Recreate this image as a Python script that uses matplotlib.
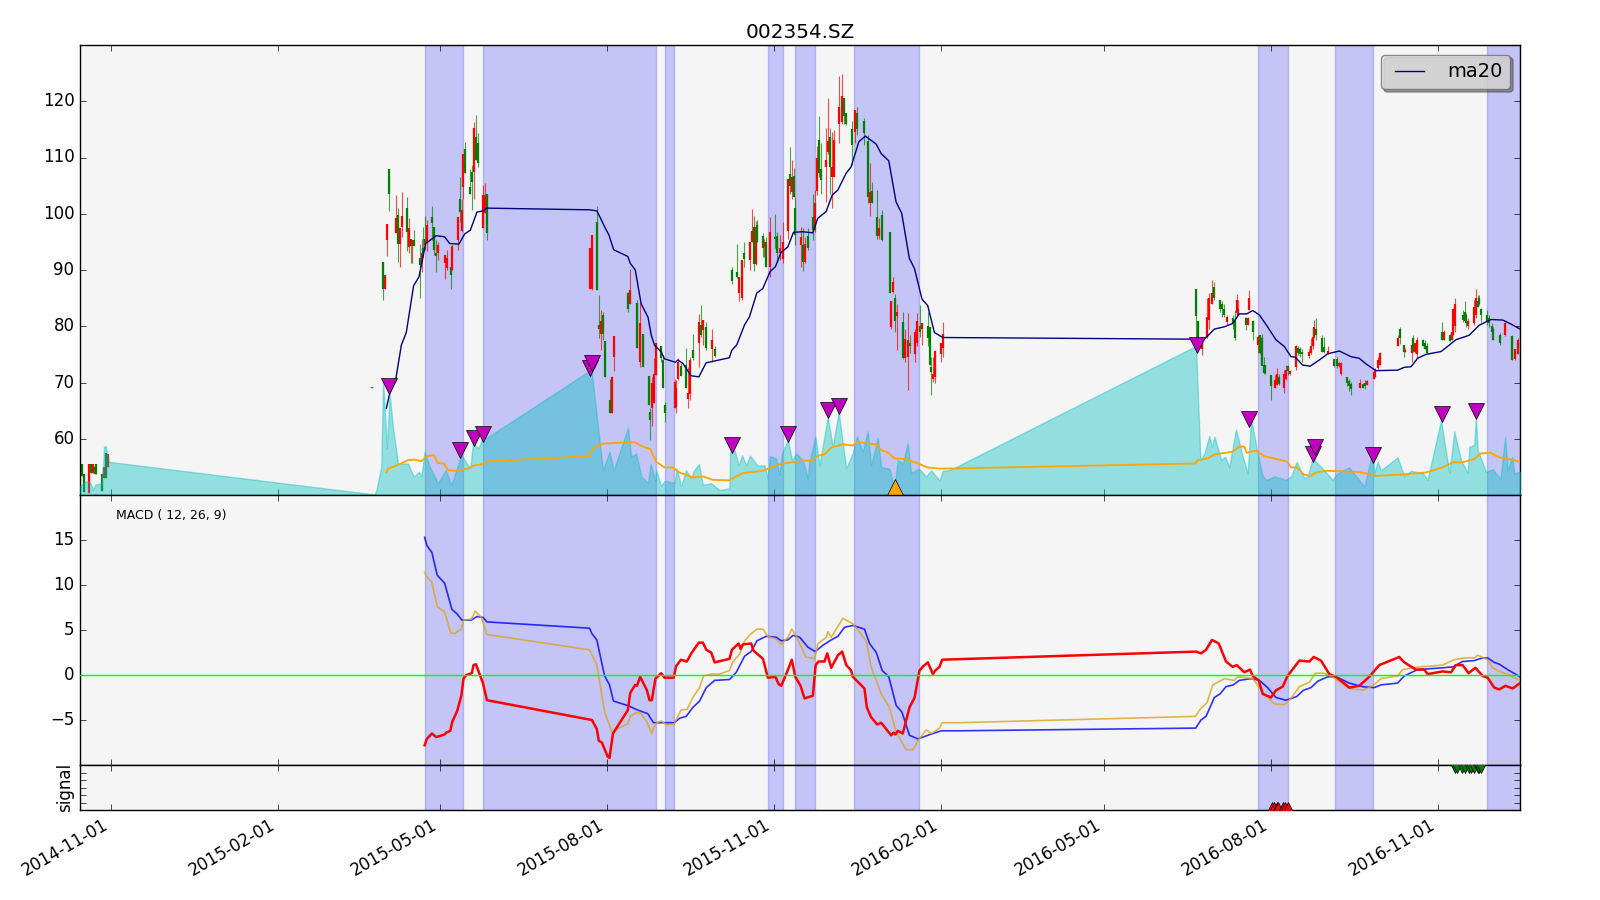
#!/usr/bin/env python3
# Price, MACD and signal panels for 002354.SZ
import pandas as pd
import matplotlib
matplotlib.use("Agg")
import matplotlib.pyplot as plt
import matplotlib.dates as mdates

# Days are counted from this date
BASE = pd.Timestamp("2014-11-01")

# Shaded periods (day numbers)
span_start = [173, 205, 305, 362, 376.5, 409, 631.5, 674, 758]
span_end = [194, 300, 310, 370, 387.5, 445, 648.5, 695, 776]

tick_dates = ["2014-11-01", "2015-02-01", "2015-05-01", "2015-08-01", "2015-11-01",
              "2016-02-01", "2016-05-01", "2016-08-01", "2016-11-01"]

# Candles
candle_day = [-15.9, -14.8, -12, -10.8, -9.8, -8.9, -8, -4.9, -3.8, -2.9, -1.6,
              143, 144, 149,
              150, 150.8, 152, 153.2, 157.2, 158.1, 159.2, 160.1, 163, 164.2, 165.1, 166, 166.9,
              170.2, 171.1, 172, 173.2, 174.1, 177, 178.1, 179.2, 180.1, 184, 185.3, 187.1, 188,
              191, 192, 193.2, 193.9, 195, 198, 198.9, 200, 201.1, 202.2, 204.9, 206, 207.1,
              264, 264.9, 267.9, 269, 270, 271, 272, 274.8, 275.9, 277,
              284.9, 286, 289.9, 291.4, 293, 296.1, 297, 298, 299, 300,
              303, 304, 305, 310.4, 311.3, 312.2, 313.7, 316.8, 317.9, 319,
              320.8, 323.8, 324.9, 326.3, 327.8, 330.9, 332.8, 341.9, 344.9, 346.1,
              347.8, 348.9, 352, 353.1, 354, 355, 356, 359, 359.9, 360.8,
              363, 365.8, 366.9, 368.5, 370, 373, 374, 375.1, 376, 377,
              380.1, 381, 382.1, 384, 386.9, 387.8, 388.9, 390, 391, 393.9,
              395, 395.9, 397, 398, 400.8, 402.9, 404, 404.9, 408.4, 409.8,
              410.8, 414.8, 417, 418, 419, 422, 423, 424.7, 429.1, 430.6,
              429.8, 431.9, 432.8, 436.1, 437.2, 438.8, 439.9, 442.7, 443.8, 445.8,
              446.9, 449.8, 450.9, 451.9, 453, 453.9, 457.2, 458.1,
              597.8, 598.9, 600.9, 603.6, 604.9, 606.6, 607.5, 610.8, 611.9, 613.2,
              614.5, 617.8, 619, 620, 620.9, 625.1, 626, 627, 628.8, 631.7,
              632.8, 633.7, 634.8, 635.8, 638.9, 641.1, 642.2, 643.1, 646.2, 647.3,
              648.4, 649.5, 652.6, 653.7, 654.8, 656, 659.8, 660.9, 661.8, 662.7,
              663.7, 667, 668.1, 670, 673.7, 675, 676.1, 677.4, 680.9, 682,
              682.9, 687.9, 689.7, 690.8, 691.9, 695.4, 696.3, 697.6, 698.7, 709,
              710.1, 711.9, 712.8, 716.3, 717.2, 718.2, 719.1, 722.7, 723.8, 724.8,
              733, 733.9, 737.2, 738.3, 739.3, 740.4, 744.4, 745.5, 746.4, 747.3,
              750.6, 751.6, 752.7, 753.6, 754.5, 757.8, 759.1, 760.5, 761.4, 765,
              767.6, 771.6, 773, 775]
candle_open = [55.5, 53.7, 50.4, 55.6, 53.9, 54.9, 55.6, 53.7, 53, 57.5, 54.9,
               62.9, 69.1, 92.1,
               91.5, 86.7, 95.3, 107.9, 96.5, 99.8, 94.7, 97.6, 101, 94.1, 95.6, 94.3, 95.3,
               92.1, 91.5, 94, 95.5, 95, 99.4, 97.6, 93, 93, 91.2, 90.3, 90.6, 90,
               95.3, 102.6, 96.9, 104.7, 111.6, 104.8, 107.5, 107.5, 113.7, 112.5, 97.4, 100.1, 103.6,
               86.7, 86.7, 98.6, 80.2, 78.7, 82, 77.3, 66.9, 64.6, 74.6,
               86, 83.9, 84.1, 73.7, 78.7, 71.2, 64.8, 65.4, 66.4, 71.3,
               76.5, 74, 66, 65.4, 65.7, 70.6, 72.9, 73.1, 67, 68,
               75.8, 77, 80.2, 79.3, 79.9, 76, 75.9, 90, 89.6, 85.9,
               85, 93.1, 91.8, 95, 97.7, 91.1, 98, 96, 94.1, 95,
               90.6, 95.9, 96, 93, 92, 97, 107, 103.9, 106.7, 101,
               94.4, 94.4, 91.5, 96, 99.5, 97.1, 104, 113.1, 108, 108.3,
               111, 113.7, 106.6, 106.6, 116, 116.3, 120.5, 118, 115, 114.6,
               118, 116.5, 113, 101.9, 104, 99.5, 96, 99.8, 96.8, 86.1,
               79.9, 85, 81.8, 80.7, 74.3, 74.6, 77.1, 75, 77, 80,
               79.5, 80, 79.9, 72.8, 70.7, 71, 75, 76.1,
               86.6, 80.9, 76, 78.1, 81.1, 84, 87, 84.7, 84, 83,
               80.8, 81.5, 81, 82.3, 82, 81.4, 80.2, 82.9, 81, 76.7,
               78.4, 78, 73.1, 73.1, 71.3, 69, 69.6, 71, 69, 70.7,
               73, 71.5, 72.8, 76.1, 76, 75.5, 74.8, 75.2, 76.4, 78.1,
               79.6, 78, 76.3, 75, 74.1, 74.2, 73, 71.5, 71, 70.3,
               69.7, 69, 69.7, 70, 69.6, 70.7, 71, 72.5, 73.1, 76.5,
               79.5, 76.7, 75.5, 75.2, 78, 75.5, 75, 77.5, 77, 76.5,
               79, 77.6, 78.5, 77.6, 78.5, 80, 82, 82.5, 82, 80,
               80.5, 82, 84.5, 85, 83, 82, 81.5, 80, 79.5, 78.5,
               78.5, 78.2, 74.2, 75]
candle_high = [55.5, 53.7, 55.6, 55.6, 55.6, 54.9, 55.6, 53.7, 54.9, 57.5, 57.3,
               63, 69.2, 92.2,
               91.5, 89.1, 98.2, 107.9, 103.3, 101.1, 97.4, 103.9, 102.9, 99.2, 95.6, 95.3, 97.1,
               94.7, 95.6, 97.7, 99.6, 98.9, 101.4, 97.6, 95.3, 95, 92.7, 93.6, 93.9, 94.4,
               99.5, 106.5, 102.6, 110.7, 112.8, 108, 108.7, 116.4, 117.6, 114.3, 105.1, 105.4, 103.6,
               93.9, 96.2, 101.3, 85.6, 82.9, 82.6, 77.3, 70.6, 71.2, 78.3,
               86.1, 90.1, 84.6, 84.1, 78.7, 71.2, 65.4, 70.9, 74.3, 77,
               76.5, 74.6, 66.6, 70.7, 70.4, 74.3, 73.4, 76.1, 72.8, 74.6,
               78.7, 82.2, 83.8, 81.2, 80.8, 79.6, 76.5, 90.5, 94.7, 88.8,
               91.8, 94.9, 95, 100.9, 99.6, 98.8, 98.9, 96.6, 95.6, 95.9,
               99.4, 100, 96.7, 96.2, 98.5, 106.1, 111.8, 109.6, 108.1, 103,
               97.7, 97.4, 95.9, 97.4, 103.5, 104.2, 112, 117.4, 112.5, 115.2,
               120.5, 115.2, 114.6, 114.9, 124.5, 124.8, 120.5, 118, 116.5, 118.4,
               118.9, 117.1, 114, 109, 105.7, 104.2, 99.2, 100.7, 96.8, 88.8,
               84.4, 85.7, 84, 82.6, 79.6, 82.3, 78.4, 79.5, 82.3, 83.8,
               80.5, 82.6, 79.9, 74.6, 74.6, 75.7, 77, 80.8,
               86.6, 80.9, 78.1, 85, 85.9, 88.2, 87.9, 84.7, 84.4, 84,
               82, 82, 82.9, 85.7, 84.7, 81.7, 81.7, 86.4, 81.1, 78.4,
               78.4, 78.6, 74.6, 73.1, 71.3, 71.3, 72.5, 71.6, 72.2, 73.1,
               73.1, 72.2, 76.7, 76.5, 76.3, 76, 76, 77.9, 79.9, 81.2,
               81.4, 78.4, 78.1, 76.5, 74.1, 74.5, 73.7, 73.7, 71, 70.6,
               70.1, 70.7, 69.9, 70.5, 70.5, 72.2, 72.5, 74.6, 75.4, 78.4,
               79.8, 76.7, 76.1, 77.6, 78.4, 77, 78.1, 77.7, 77.6, 77,
               80.8, 79.4, 78.7, 79, 83.2, 85, 82.9, 84.4, 82.3, 81.4,
               84.7, 86.6, 85.6, 85.6, 83.2, 82.9, 82, 80.5, 79.9, 78.8,
               80.7, 78.4, 76, 78]
candle_low = [53.4, 50.6, 50.4, 54, 53.9, 53.7, 53.7, 50.8, 53, 53, 54.9,
              62.9, 69.1, 92.1,
              84.7, 86.7, 92.5, 100.5, 96.5, 91.5, 90.6, 95.9, 93.4, 93, 91.2, 91.2, 94.3,
              85.1, 89.7, 92.4, 93.6, 93.3, 95.3, 92.7, 89.7, 91.7, 88.4, 90, 86.6, 90,
              93.6, 98.6, 96.8, 102.7, 107.2, 103.6, 100.7, 102.7, 109.6, 108.4, 97.4, 100.1, 95.3,
              86.7, 86.4, 86.4, 77.9, 75.7, 77.6, 71, 64.5, 64.6, 72.1,
              82.6, 83.9, 76.1, 72.7, 72.8, 66, 59.8, 62.3, 66.4, 71.3,
              73.7, 69, 62.9, 65.4, 64.5, 70.4, 71.2, 69, 65.5, 66.9,
              74, 72.8, 78.1, 76.7, 75.8, 73.7, 74.6, 87.6, 88.5, 84.5,
              84.7, 90.6, 90, 94.9, 89.9, 90.9, 95, 92.4, 92.4, 90.6,
              88.7, 94, 91.5, 91.8, 91.2, 95.5, 103.6, 102.7, 102.9, 94.4,
              90.6, 89.9, 91.2, 93.6, 95.3, 96.8, 103.3, 106.6, 103.6, 102.1,
              110.7, 103.6, 101.1, 106.6, 112.6, 116, 116, 115.8, 108.6, 112.5,
              114, 112.2, 101.9, 99.6, 101.9, 95.6, 95.6, 95.2, 85.9, 85.9,
              79.6, 79, 75.8, 74.1, 73.7, 68.7, 75.2, 73.7, 76.4, 78.1,
              76.7, 76.4, 73.1, 67.8, 70.1, 69.9, 73.7, 74.6,
              77.7, 77.9, 74.9, 78, 79.6, 84, 84.7, 82.6, 81.7, 81.7,
              80.2, 79.5, 77.6, 82, 82, 79.3, 80.2, 82.9, 77.6, 75.2,
              75.1, 73.1, 71.6, 71.6, 66.9, 69, 69.6, 69.6, 68.1, 70.4,
              71.3, 71.3, 72.2, 74.9, 74.6, 73.7, 74.3, 75.1, 76, 77.9,
              77.6, 75.5, 75.2, 75, 72.8, 72.5, 72.8, 71.3, 69.3, 68.4,
              67.8, 69, 69, 68.8, 69.5, 70.7, 71, 72.2, 73.1, 76.4,
              76.8, 74.6, 75.4, 73.7, 75.4, 75.2, 74.3, 76.5, 76, 75.1,
              77.6, 77.6, 77.3, 77.6, 78.4, 79, 80.8, 80.8, 79.9, 79.6,
              80.2, 81.4, 83.5, 83.8, 80.8, 80.2, 79.9, 78.4, 77.6, 76.7,
              78.3, 74, 74, 75]
candle_close = [53.4, 50.6, 55.6, 54, 55.6, 53.7, 53.7, 50.8, 54.9, 53, 57.3,
                63, 69.2, 92.2,
                86.7, 89.1, 98.2, 103.6, 99.2, 94.7, 97.4, 99.6, 96.8, 97.4, 94.3, 95.3, 94.3,
                90.9, 93, 93, 94.5, 98, 98.4, 93.6, 92.5, 94.5, 92.7, 92.1, 89.1, 94.3,
                99.5, 100.4, 100.7, 110.7, 107.2, 103.5, 105.7, 115.2, 109.6, 109, 103.3, 103.3, 96.5,
                93.9, 96.2, 86.4, 79.5, 81, 78.7, 71, 64.5, 71, 78.3,
                83, 86.4, 76.1, 80.5, 72.8, 66, 63.3, 69.9, 71.6, 77,
                74.3, 69, 64.5, 70.1, 69, 73.7, 71.2, 69, 68.1, 74,
                74.3, 80.8, 78.4, 81.2, 76.1, 77.6, 74.7, 88, 88.7, 88.8,
                91.8, 91.9, 94.9, 97, 91.1, 97.7, 95, 94, 95, 90.6,
                96.8, 95.6, 93, 94, 95, 106.1, 105, 106.6, 102.9, 96.2,
                95.9, 91.5, 94.6, 94, 97.1, 101.9, 110, 107.2, 106, 109.6,
                113, 108.4, 108.4, 113.1, 119, 121, 117.3, 116, 112.2, 118.4,
                115, 114.3, 103, 103.9, 102, 96, 97.4, 95.3, 86, 87.9,
                84.4, 81, 82.6, 74.3, 77.7, 77.6, 76.4, 79, 81, 79,
                80.5, 78, 73.2, 71.9, 71.5, 75.6, 77, 78.7,
                81.8, 78, 78, 81.7, 85.1, 86, 85, 83, 83, 82,
                81.6, 80.5, 78, 84.7, 83, 80.2, 81.4, 85, 79, 78.1,
                75.2, 73, 71.7, 71.7, 69.3, 70.5, 71.5, 69.7, 71.5, 72.2,
                72, 72, 76.4, 75.2, 75, 75, 75.5, 76.5, 78.1, 79.9,
                78.4, 75.5, 75.4, 75.6, 72.9, 73, 73.5, 73.5, 70, 69.3,
                68.8, 69.9, 69, 69.3, 70.2, 71.9, 72, 74, 75.2, 78,
                78, 75.5, 75.8, 76.7, 75.6, 77, 77.5, 76.5, 76, 75.2,
                77.6, 79, 77.3, 79, 83, 84, 81.1, 81, 80.5, 81,
                83.5, 85, 83.5, 84, 82, 81, 80.5, 79, 77.6, 77,
                80.5, 74, 75.9, 77.5]

# 20 day moving average
ma20_day = [151.7, 153.5, 156.8, 160, 162.7, 166.7, 169.7, 173.3, 179.2, 183.8, 186.6, 191.7,
            194.8, 198, 201.6, 204.9, 207.1, 263.6, 267.7, 271.9, 274.3, 276.9, 284.7, 286,
            288.8, 292, 295.8, 297.6, 299.4, 303, 304.9, 310.9, 312.2, 315, 319.5, 323.8, 327.8,
            340.6, 341.9, 344.7, 348.9, 351.7, 355.7, 359, 363, 366, 369, 372.8, 375.9, 381,
            386.5, 389.3, 393.9, 397.2, 400.3, 404.9, 407.6, 411.9, 415.5, 421.4, 424.2, 428.4,
            432.4, 435.5, 439.7, 442.5, 446.7, 449.8, 453.5, 458.1, 597.6, 602.2, 607.7, 613.2,
            617.8, 621.4, 625.5, 628.8, 632.5, 637, 641.6, 646.2, 649.9, 652.3, 656.3, 660.4,
            665.5, 670.1, 676.5, 682.9, 687.5, 691.2, 696.7, 708.6, 712.3, 716, 719.6, 724.2,
            732.5, 736.1, 740.7, 748, 753.6, 760, 766.5, 771, 776]
ma20_val = [65.4, 68, 70.4, 76.7, 78.9, 87.2, 88.8, 94.7, 96.1, 95.9, 94.7, 94.6,
            96.4, 97.1, 100.3, 100.5, 101, 100.7, 100.5, 97.7, 96.2, 93.6, 92.4, 91.2,
            90, 84, 81.6, 78.4, 76.6, 75.5, 74.2, 73.6, 74, 73.4, 71.2, 71, 73.5,
            74.4, 75.7, 76.7, 80.2, 81.7, 85.9, 86.7, 89.7, 90.6, 93.1, 94.1, 96.7, 96.8,
            96.6, 99.2, 100.4, 103.3, 104.2, 107.2, 108.3, 112.8, 113.8, 112.4, 110.7, 109.4,
            102.1, 100.1, 92.1, 90.3, 84.8, 83.7, 78.9, 78, 77.7, 77.7, 79.5, 79.9,
            80.5, 82.2, 82.2, 82.8, 82, 79.9, 77.6, 76.4, 74.6, 74.5, 73.1, 72.9,
            74, 75.1, 75.6, 74.6, 74.3, 73.3, 72.1, 72.2, 72.7, 72.8, 74.3, 75,
            75.5, 76.4, 77.6, 78.4, 80.2, 81.2, 81.1, 80.4, 79.5]

# Volume and its average, on the price scale of the top panel
vol_day = [-16.8, -15.4, -14.4, -11.7, -9.8, -8.4, -5.3, -4.3, -3.8, -2.9, -1, 145.2, 146.2,
           148.9, 149.9, 152, 153.5, 155.3, 158.1, 163.6, 166.7, 169.7, 171, 172.8, 175.6, 180.1,
           184.4, 187.5, 193, 194.8, 197.9, 199.4, 202.5, 204.9, 206.7, 264.6, 271, 274.6, 276.9,
           284.7, 286.6, 289.3, 292.1, 295.8, 297.2, 299.9, 300.3, 303, 304.9, 310.4, 311.6, 314,
           316.8, 319.5, 321, 323.8, 326, 330.5, 335.1, 340.6, 341, 343.4, 345.8, 347.6, 349.8,
           352, 356.2, 359.9, 361.7, 363, 366.3, 368.2, 369.6, 372.8, 375.1, 377.4, 381, 383.8,
           384.7, 388, 390.2, 394.8, 397.5, 400.8, 404.9, 408.5, 410.8, 414, 416.8, 418.6, 422.3,
           424.2, 428.7, 431.5, 433.3, 436.1, 438.8, 440.7, 444.9, 449, 451.7, 456.3, 458.1, 461.8,
           597.6, 600, 602.2, 604.9, 606.4, 607.7, 611.4, 613.6, 615.9, 619.6, 623.3, 626, 627.9,
           631.5, 634.3, 636.5, 640.7, 647.1, 649.9, 653, 657.2, 659.1, 661.8, 667.3, 672.8, 674.7,
           678.3, 682, 690.3, 694.9, 695.8, 697.6, 699.4, 708.6, 712.3, 716, 718.7, 722.4, 725.1,
           732.5, 737.1, 739.8, 743.5, 747.2, 748.1, 750.8, 751.7, 752.7, 757.3, 761, 765.2,
           767.8, 769.2, 771.6, 772.9, 776]
vol_val = [51.6, 52, 52.4, 52.4, 51, 51.9, 52, 55, 58.6, 58.7, 55.9, 50.1, 50.9,
           55, 70.4, 58.3, 68, 62.1, 55.6, 55.6, 53.3, 54.1, 53.3, 57.7, 55, 52.1,
           54.4, 51.8, 57.1, 56.2, 54.7, 59.2, 58.3, 60.4, 60.1, 72.3, 54.4, 57.7, 54.4,
           61.9, 56.8, 57.4, 53.3, 52.1, 55.6, 52.4, 54.4, 51.6, 52.5, 52.2, 54.7, 51.6,
           54.4, 53, 54.3, 55.5, 51.8, 52.1, 50.9, 51.2, 57.7, 58, 55.3, 57.1, 55.3,
           57, 55.2, 55.3, 53, 56.9, 56.5, 53.6, 57.4, 59.8, 56.2, 57.4, 56.2, 53,
           55.9, 60.4, 55.3, 63.9, 58.6, 64.8, 54.7, 57.4, 60.4, 57.7, 61.3, 55.3, 60.1,
           55, 54.7, 51.2, 56.2, 55.6, 59.2, 53.9, 54.7, 53.3, 54.4, 52.6, 54.3, 54.4,
           76.5, 56.2, 57.4, 60.5, 58.6, 60.4, 56.2, 56.8, 55, 61.7, 56.8, 53.9, 63.6,
           57.4, 53.3, 52.7, 53.3, 52.7, 53.3, 55.9, 53, 53.3, 56.5, 54.7, 52.7, 53.6,
           54.4, 54.9, 51.5, 58, 53.9, 55.9, 54.4, 56.7, 53.3, 54.3, 54.1, 53.9, 52.7,
           63.3, 53.9, 61.3, 56.2, 53.9, 58.6, 58.9, 63.9, 58, 54.1, 54.6, 52.8,
           60.3, 54.4, 56.8, 53.9, 54.1]
vol_ma_day = [151.7, 152.6, 157.2, 163.6, 167.3, 171, 174, 177.8, 180, 183.4, 185.6, 189.3,
              196.7, 199.4, 204.9, 207.7, 263.6, 264.9, 270, 274.6, 288.4, 293, 297, 300.3,
              304.9, 309.4, 313.1, 320.5, 326, 331.5, 340.6, 348, 359, 368.2, 377.3, 386.5,
              389.3, 393, 396.6, 403, 408.5, 411.3, 421.4, 424.2, 427.8, 431.5, 437.9, 445.2,
              449.8, 456.3, 461.8, 597.2, 598.5, 604, 607.7, 617.8, 621.4, 624.2, 625.5, 630.6,
              635.2, 640.7, 648, 649.9, 653, 657.2, 660.9, 663.7, 669.2, 687.5, 696.7, 709.5,
              724.2, 733.4, 738.9, 744.4, 750.8, 754.5, 760, 763.7, 771, 776]
vol_ma_val = [54, 54.7, 55.2, 56.2, 56.3, 56, 56.9, 57.1, 55.7, 55.6, 54.4, 54.3,
              54.7, 55.2, 55.5, 56, 56.9, 58.1, 59.1, 59.2, 59.4, 58.6, 58.2, 55.9,
              54.9, 54.9, 54, 53.1, 53.3, 52.7, 52.6, 53.9, 54.3, 55.5, 55.9, 56.2,
              57, 57.2, 58.4, 59, 58.8, 59.4, 59, 58, 57.6, 56.5, 56.4, 55.5,
              54.9, 54.7, 54.7, 55.6, 56.2, 56.5, 57.2, 57.7, 58.6, 58.6, 57.5, 57.9,
              56.9, 56.5, 55.9, 54.9, 54.9, 53.6, 53.4, 54, 54.3, 54.1, 53.4, 53.6,
              54, 54.9, 55.8, 55.8, 56.4, 57.4, 57.5, 56.8, 56.3, 55.9]

# Volume alerts
alert_day = [153.2, 192.4, 199.8, 204.9, 263.6, 264.9, 341.9, 372.8, 394.8, 400.8,
             597.9, 626.6, 661.8, 662.9, 694.9, 733, 751.6]
alert_val = [69.3, 58, 60.2, 60.8, 72.5, 73.4, 58.9, 60.8, 65.1, 65.8,
             76.7, 63.5, 57.3, 58.5, 57.1, 64.4, 64.9]
low_alert_day = [431.7]
low_alert_val = [51.4]

# MACD lines
dif_day = [172.8, 174, 176.8, 179.7, 183.8, 187.8, 190.6, 193.3, 198.5, 201.6, 204.9, 207.1,
           263.6, 264.9, 267.6, 271.9, 274.6, 276.8, 284.7, 290.2, 295.7, 298.8, 310.4, 313.2,
           316.8, 320.5, 324.2, 327.9, 332.5, 340.7, 344.4, 349, 352.6, 355.8, 360.9, 366.4,
           369.2, 372.8, 375.6, 379.3, 383.8, 387.9, 392.1, 396.7, 400.4, 404, 408.6, 415,
           417.8, 421.5, 424.8, 428.4, 432.5, 435.6, 439.8, 444.4, 452.7, 457.3, 467.3, 597.4,
           600.3, 603.1, 607.7, 610.8, 614.1, 618.1, 621.4, 627.9, 632.5, 637, 641.6, 647.1,
           653, 656.7, 660.9, 664.6, 670.1, 674.7, 682, 689.3, 695.8, 699.4, 708.6, 712.3,
           719.6, 733.4, 738.9, 744.4, 750.8, 755.4, 758.2, 761.8, 764.6, 770, 776]
dif_val = [15.3, 14.4, 13.6, 11.1, 10.2, 7.3, 6.8, 6.1, 6.1, 6.5, 6.4, 5.9,
           5.2, 4.6, 3.9, -0.1, -1.1, -2.9, -3.4, -3.9, -4.3, -5.3, -5.3, -4.8,
           -4.6, -3.6, -2.9, -1.4, -0.6, -0.5, 0.3, 2.1, 2.6, 3.8, 4.3, 4.2,
           3.8, 3.9, 4.4, 4.2, 3.1, 2.6, 3.3, 3.9, 4.3, 5.3, 5.5, 5.1,
           3.5, 2.5, 0.5, -0.2, -3.4, -4.1, -6.7, -7.1, -6.5, -6.2, -6.2, -5.9,
           -5, -4.6, -2.5, -2.1, -1.3, -1.1, -0.6, -0.4, -0.6, -1.4, -2.5, -2.8,
           -2.4, -1.7, -1.4, -0.7, -0.2, -0.2, -0.9, -1.3, -1.4, -1.1, -0.9, -0.1,
           0.6, 0.8, 0.9, 1.5, 1.6, 1.9, 1.9, 1.4, 1.2, 0.5, -0.2]
dea_day = [172.8, 174, 176.8, 179.7, 183.8, 187.1, 189.3, 193, 194.2, 198.5, 200.7, 204, 207.1,
           263.6, 267.6, 271.9, 275.9, 284.7, 286, 289.3, 291.5, 295.2, 297.9, 299.9, 303,
           305.8, 310, 314, 317.4, 320.5, 324.2, 326.4, 330.6, 335.2, 340.7, 342.6, 346.2, 349,
           352.6, 355.9, 359.1, 361.8, 366.4, 369.2, 372.8, 375, 378.3, 382.6, 387.5, 389.4,
           394, 394.9, 396.7, 403.1, 408.6, 416, 418.7, 424.2, 428.8, 432.5, 438, 441.7,
           444.4, 449, 451.8, 456.3, 457.8, 467.3, 597.2, 600.3, 603.6, 606.8, 611.4, 613.2,
           618.7, 620.5, 628.8, 632.5, 635.8, 640.7, 646.2, 649.9, 654.5, 660, 663.3, 668.2,
           672.8, 682, 689.3, 694.9, 699.4, 708.6, 711.4, 720.5, 733.4, 739.8, 745.3, 750.8,
           752.7, 758.2, 760.9, 764.6, 770, 776]
dea_val = [11.4, 10.9, 10.3, 7.6, 7, 4.7, 4.6, 5.1, 6.1, 6.2, 7.1, 6.4, 4.5,
           2.8, 1.1, -4.1, -6.3, -5.4, -4.6, -4.2, -4.2, -5.2, -6.5, -5.4, -5.1,
           -5.5, -5.5, -3.9, -3.8, -2.5, -1.4, -0.1, 0.1, 0.1, 0.5, 1.5, 2.3, 3.8,
           4.6, 5.1, 5.1, 4.3, 4, 3.4, 4.2, 5.1, 4, 2, 1.8, 3.5,
           4.2, 4.8, 4.2, 6.3, 5.7, 3.8, 0.9, -2.1, -3.6, -6.4, -8.3, -8.3,
           -7.3, -6.1, -6.5, -5.9, -5.3, -5.3, -4.6, -3.7, -3.1, -1.1, -0.6, -0.4,
           -0.6, -0.2, -0.4, -1.4, -2.2, -3.2, -3.3, -2.6, -1.3, -0.8, 0.2, 0.2,
           -0.2, -1.5, -1.7, -1.2, -0.4, -0.1, 0.6, 0.9, 1.1, 1.7, 1.9, 1.9,
           2.2, 1.7, 0.8, 0.4, 0, -0.6]
hist_day = [172.8, 174, 176.8, 179.2, 183.8, 184.7, 186.9, 188, 190.7, 193, 194.2, 195.7, 198.8,
            199.7, 201, 204.9, 207.1, 264.9, 267.6, 268.7, 270.4, 272.2, 273.7, 274.6, 276.5,
            284.7, 286, 288.7, 289.7, 291.5, 295.2, 296.6, 297.9, 299.9, 303, 304.9, 309.9,
            311.3, 314, 317.2, 319.6, 323.8, 326, 327.9, 330.6, 332.5, 340.7, 342, 345.7,
            346.8, 348.1, 352.6, 353.9, 359.1, 361.8, 366, 367.7, 369.2, 372.3, 375, 376.9,
            379.8, 382, 386.6, 388.1, 389.7, 393, 394.5, 396.7, 400.4, 402.7, 405, 407.7,
            408.6, 415, 416.3, 418.7, 422, 424.2, 429.7, 431, 432.1, 433.4, 436.1, 439.8,
            442.6, 445.3, 447.5, 449.9, 452.7, 454, 456.3, 457.8, 597.6, 600.3, 603.1, 606.4,
            610.1, 614.1, 617.8, 620, 624.2, 627.3, 628.8, 632.1, 634.3, 638.9, 641.6, 645.3,
            648, 654.5, 660, 662.4, 666.4, 671, 674.7, 682, 687.5, 693, 698.5, 709.5,
            712.3, 718.7, 723.3, 725.1, 733.4, 738, 740.7, 744.4, 747.7, 751.4, 755.4, 758.2,
            761.8, 764.6, 768, 772, 776]
hist_val = [-7.8, -7.1, -6.5, -6.9, -6.6, -6.4, -6.2, -5.2, -4, -2.3, -0.4, 0, 0.2,
            1.1, 1.2, -0.9, -2.8, -5, -6, -7.3, -7.5, -8.4, -9.1, -9.2, -6.5,
            -3.9, -2, -1.1, -1.2, -0.2, -1.7, -2.8, -2.8, -0.4, 0.2, -0.3, -0.3,
            1, 1.7, 1.5, 2.4, 3.6, 3.6, 2.8, 2.5, 1.4, 1.8, 2.8, 3.5,
            2.9, 3.4, 3.5, 2.7, 1.8, -0.3, -0.2, -1, -1.2, 0.3, 1.7, -0.2,
            -1.2, -2.6, -2.3, 1.1, 1.5, 1.5, 2.4, 0.8, 2.2, 2.6, 1.1, 0.5,
            -0.2, -1.5, -3.6, -4.7, -5.5, -5.3, -6.7, -6.4, -6.6, -6.2, -6.5, -3.6,
            -2.5, 0.5, 1, 1.4, 0.1, 0.5, 0.9, 1.7, 2.6, 2.4, 2.8, 3.9,
            3.5, 1.5, 0.9, 1.1, 0.3, 0.6, -0.1, -0.6, -2.1, -2.5, -1.7, -1.3,
            -0.1, 1.6, 1.5, 2, 1.6, 0.1, -0.2, -1.4, -1.2, -0.2, 1.1, 2,
            1.4, 0.6, 0.6, 0.1, 0.4, 0.3, 1.1, 1.1, 0.2, 0.8, -0.1, -0.3,
            -1.4, -1.6, -1.2, -1.5, -0.9]

# Signals
buy_day = [639.5, 640.5, 642, 643, 645.3, 646.5, 648]
sell_day = [740.2, 741.5, 744, 745.9, 747.7, 749, 750.8, 752.6, 753.5, 754.5]
buy_level = -1.27
sell_level = 1.27


def to_dates(days):
    return BASE + pd.to_timedelta(days, unit="D")


plt.style.use("classic")

fig = plt.figure(figsize=(16, 9), dpi=100, facecolor="white")
ax_price = fig.add_axes([0.05, 0.45, 0.90, 0.50], facecolor="whitesmoke")
ax_macd = fig.add_axes([0.05, 0.15, 0.90, 0.30], facecolor="whitesmoke", sharex=ax_price)
ax_sig = fig.add_axes([0.05, 0.10, 0.90, 0.05], facecolor="whitesmoke", sharex=ax_price)

for ax in [ax_price, ax_macd, ax_sig]:
    for start, end in zip(to_dates(span_start), to_dates(span_end)):
        ax.axvspan(start, end, facecolor="b", edgecolor="b", alpha=0.2, zorder=1)

# Candles
cdates = to_dates(candle_day)
ccolors = ["r" if c >= o else "g" for o, c in zip(candle_open, candle_close)]
ax_price.vlines(cdates, candle_low, candle_high, colors=ccolors, linewidth=0.8, alpha=0.7, zorder=2)
ax_price.vlines(cdates, candle_open, candle_close, colors=ccolors, linewidth=1.6, zorder=2)

ax_price.plot(to_dates(ma20_day), ma20_val, color="navy", linewidth=1, label="ma20", zorder=3)

# Volume
ax_price.fill_between(to_dates(vol_day), 50, vol_val, facecolor="c", edgecolor="c",
                      alpha=0.4, zorder=4)
ax_price.plot(to_dates(vol_ma_day), vol_ma_val, color="orange", linewidth=1.3, zorder=5)
ax_price.plot(to_dates(alert_day), alert_val, "v", color="m", markersize=11, zorder=6)
ax_price.plot(to_dates(low_alert_day), low_alert_val, "^", color="orange", markersize=11, zorder=6)

ax_price.set_ylim(50, 130)
ax_price.set_yticks([60, 70, 80, 90, 100, 110, 120])
ax_price.set_title("002354.SZ", fontsize=14.4)
# the shadow shows through the frame, so the face is lighter than it looks
ax_price.legend(loc="upper right", fancybox=True, shadow=True, facecolor="0.9", edgecolor="0.4",
                framealpha=0.75, fontsize=14, handlelength=2.1, handletextpad=0.9)

# MACD
ax_macd.plot(to_dates(dif_day), dif_val, color="b", alpha=0.8, linewidth=1.2, zorder=3)
ax_macd.plot(to_dates(dea_day), dea_val, color="goldenrod", alpha=0.8, linewidth=1.2, zorder=3)
ax_macd.plot(to_dates(hist_day), hist_val, color="r", linewidth=1.8, zorder=4)
ax_macd.axhline(0, color="lime", linewidth=1, zorder=5)
ax_macd.set_ylim(-10, 20)
ax_macd.set_yticks([-5, 0, 5, 10, 15])
ax_macd.text(0.025, 0.95, "MACD ( 12, 26, 9)", transform=ax_macd.transAxes, fontsize=9,
             va="top", ha="left")

# Signals
ax_sig.plot(to_dates(buy_day), [buy_level] * len(buy_day), "^", color="r", markersize=6.5, zorder=3)
ax_sig.plot(to_dates(sell_day), [sell_level] * len(sell_day), "v", color="g", markersize=6.5, zorder=3)
ax_sig.set_ylim(-1.5, 1.5)
ax_sig.set_yticks([-1, -0.5, 0, 0.5, 1])
ax_sig.set_yticklabels([])
ax_sig.set_ylabel("signal", fontsize=12, labelpad=0)

ax_sig.set_xlim(to_dates([-17])[0], to_dates([776])[0])
ax_sig.xaxis.set_major_locator(plt.FixedLocator(mdates.date2num(pd.to_datetime(tick_dates))))
ax_sig.xaxis.set_major_formatter(mdates.DateFormatter("%Y-%m-%d"))
plt.setp(ax_price.get_xticklabels(), visible=False)
plt.setp(ax_macd.get_xticklabels(), visible=False)
plt.setp(ax_sig.get_xticklabels(), rotation=30, ha="right")

fig.savefig("out.png", dpi=100)
